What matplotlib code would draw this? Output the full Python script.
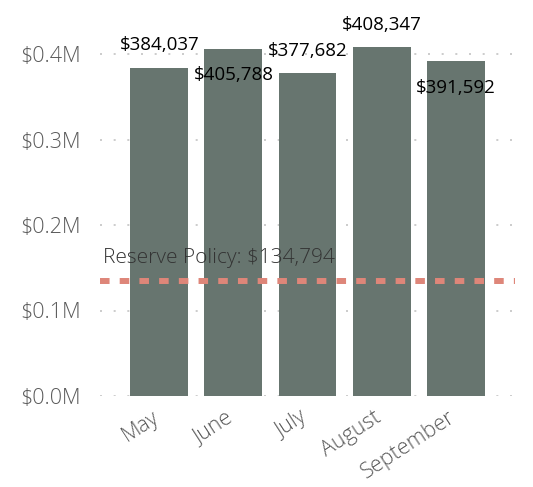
import matplotlib
matplotlib.use("Agg")
import matplotlib.pyplot as plt
import matplotlib.transforms as mtransforms
from matplotlib.ticker import FuncFormatter

months = ["May", "June", "July", "August", "September"]
revenue = [384037, 405788, 377682, 408347, 391592]
label_inside = [False, True, False, False, True]
reserve = 134794

plt.rcParams['font.family'] = ['Open Sans', 'DejaVu Sans']

W, H = 533, 487
fig = plt.figure(figsize=(W / 100, H / 100), dpi=100)
# zero line at y=396 px, $0.4M at y=54 px
px_per_unit = (396 - 54) / 400000
ymax = 396 / px_per_unit
ax = fig.add_axes([100 / W, (H - 396) / H, 415 / W, 396 / H])

x = list(range(len(months)))
ax.bar(x, revenue, width=0.78, color="#67756F", zorder=2)
ax.set_xlim(-0.8, 4.8)
ax.set_ylim(0, ymax)
ax.set_yticks([0, 100000, 200000, 300000, 400000])
ax.yaxis.set_major_formatter(FuncFormatter(lambda v, p: f"${v / 1e6:.1f}M"))
ax.grid(axis="y", linestyle=(0, (1.2, 7)), color="#C4C4C4", linewidth=1.2, zorder=0)
for s in ax.spines.values():
    s.set_visible(False)
ax.tick_params(length=0)
ax.tick_params(axis="y", labelsize=15.5, labelcolor="#5a5a5a", pad=14)
ax.set_xticks(x)
ax.set_xticklabels(months, rotation=33, ha="right", rotation_mode="anchor",
                   fontsize=15.5, color="#5a5a5a", fontweight="light")
ax.tick_params(axis="x", pad=8)
shift = mtransforms.ScaledTranslation(-8 / 100, 0, fig.dpi_scale_trans)
for t in ax.get_xticklabels():
    t.set_transform(t.get_transform() + shift)
for t in ax.get_yticklabels():
    t.set_fontweight("light")

for i, v in enumerate(revenue):
    if label_inside[i]:
        ax.annotate(f"${v:,}", (i, v), xytext=(0, -12.5), textcoords="offset points",
                    ha="center", va="top", fontsize=13.5, color="black", annotation_clip=False)
    else:
        ax.annotate(f"${v:,}", (i, v), xytext=(0, 9.5), textcoords="offset points",
                    ha="center", va="bottom", fontsize=13.5, color="black", annotation_clip=False)

ax.axhline(reserve, color="#DE8679", linestyle=(0, (1.6, 1.7)), linewidth=4.3, zorder=3)
ax.annotate(f"Reserve Policy: ${reserve:,}", (-0.8, reserve), xytext=(2, 9),
            textcoords="offset points", fontsize=15, color="#333333",
            fontweight="light", ha="left", va="bottom", zorder=4)

fig.savefig("out.png", dpi=100)
